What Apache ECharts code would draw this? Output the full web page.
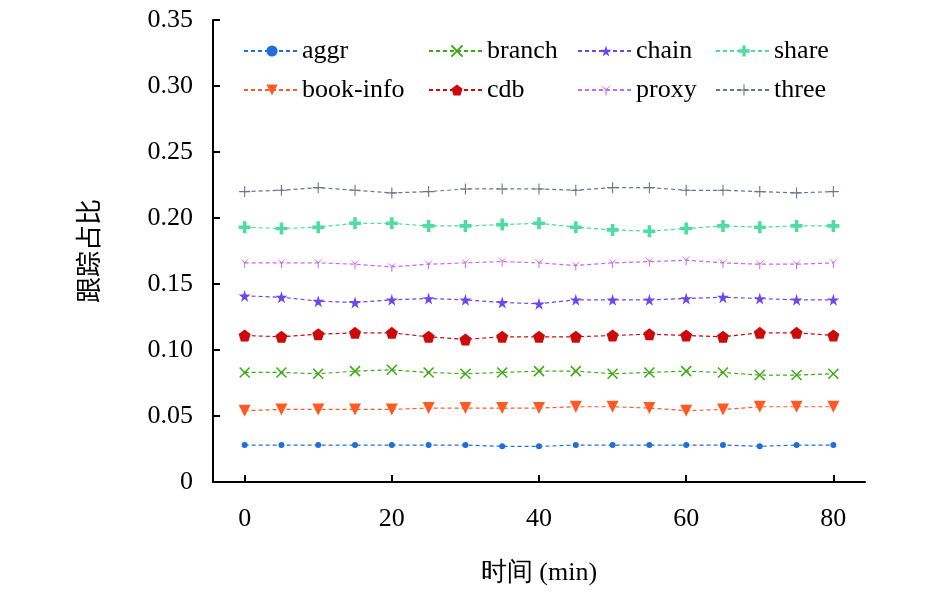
<!DOCTYPE html>
<html><head><meta charset="utf-8">
<script src="https://cdn.jsdelivr.net/npm/echarts@6/dist/echarts.min.js"></script>
<style>html,body{margin:0;background:#fff}#c{width:945px;height:592px}</style>
</head><body><div id="c"></div>
<script>
const times = [0,5,10,15,20,25,30,35,40,45,50,55,60,65,70,75,80];
const names = ["aggr","branch","chain","share","book-info","cdb","proxy","three"];
const aggr = [.028,.028,.028,.028,.028,.028,.028,.027,.027,.028,.028,.028,.028,.028,.027,.028,.028];
const branch = [.083,.083,.082,.084,.085,.083,.082,.083,.084,.084,.082,.083,.084,.083,.081,.081,.082];
const chain = [.141,.140,.137,.136,.138,.139,.138,.136,.135,.138,.138,.138,.139,.140,.139,.138,.138];
const share = [.193,.192,.193,.196,.196,.194,.194,.195,.196,.193,.191,.190,.192,.194,.193,.194,.194];
const bookInfo = [.054,.055,.055,.055,.055,.056,.056,.056,.056,.057,.057,.056,.054,.055,.057,.057,.057];
const cdb = [.111,.110,.112,.113,.113,.110,.108,.110,.110,.110,.111,.112,.111,.110,.113,.113,.111];
const proxy = [.166,.166,.166,.165,.163,.165,.166,.167,.166,.164,.166,.167,.168,.166,.165,.165,.166];
const three = [.220,.221,.223,.221,.219,.220,.222,.222,.222,.221,.223,.223,.221,.221,.220,.219,.220];
const values = [aggr, branch, chain, share, bookInfo, cdb, proxy, three];

const colors = ["#1f6fd6","#3caa10","#6a48f0","#50dca0","#ff5a24","#cc0a0a","#cc66ee","#6e7686"];
const symbols = [
  "circle",
  "path://M0,0L2,2M2,0L0,2",
  "path://M50,0L61,35H98L68,57L79,91L50,70L21,91L32,57L2,35H39Z",
  "path://M35,0H65V35H100V65H65V100H35V65H0V35H35Z",
  "triangle",
  "path://M50,0L100,38L81,100H19L0,38Z",
  "path://M0,0L50,40L100,0L55,50V100H45V50Z",
  "path://M45,0H55V45H100V55H55V100H45V55H0V45H45Z"
];
const sizes = [6,10,12,12,12,12,10,11];
const font = "'Liberation Serif','Times New Roman',serif";

const series = names.map((n, i) => ({
  name: n,
  type: "line",
  data: times.map((t, j) => [t, values[i][j]]),
  symbol: symbols[i],
  symbolSize: sizes[i],
  symbolRotate: n === "book-info" ? 180 : 0,
  lineStyle: { type: [4, 3], width: 1.2, color: colors[i] },
  itemStyle: { color: colors[i], borderColor: colors[i], borderWidth: (i === 1 ? 1.5 : 0) },
  emphasis: { disabled: true }
}));

const colX = [238, 423, 572, 710];
const legends = colX.map((x, c) => ({
  left: x, top: 33, orient: "vertical", itemGap: 13,
  itemWidth: 56, itemHeight: 14,
  data: [names[c], names[c + 4]],
  textStyle: { fontFamily: font, fontSize: 26, color: "#000", padding: [0, 0, 0, -3] }
}));

const chart = echarts.init(document.getElementById("c"));
chart.setOption({
  animation: false,
  legend: legends,
  grid: { left: 213, right: 80, top: 20, bottom: 110 },
  xAxis: {
    type: "value", min: -4.3, max: 84.3,
    name: "时间 (min)", nameLocation: "middle", nameGap: 78,
    nameTextStyle: { fontFamily: font, fontSize: 26, color: "#000" },
    axisLine: { onZero: false, lineStyle: { color: "#000", width: 2 } },
    axisTick: { inside: true, length: 7, lineStyle: { color: "#000", width: 2 }, customValues: [0,20,40,60,80] },
    axisLabel: { fontFamily: font, fontSize: 26, color: "#000", margin: 24, customValues: [0,20,40,60,80] },
    splitLine: { show: false }
  },
  yAxis: {
    type: "value", min: 0, max: 0.35, interval: 0.05,
    name: "跟踪占比", nameLocation: "middle", nameGap: 112, nameRotate: 90,
    nameTextStyle: { fontFamily: "'Noto Sans CJK SC'", fontSize: 26, color: "#000" },
    axisLine: { show: true, onZero: false, lineStyle: { color: "#000", width: 2 } },
    axisTick: { show: true, inside: true, length: 7, lineStyle: { color: "#000", width: 2 } },
    axisLabel: { fontFamily: font, fontSize: 26, color: "#000", margin: 20,
      formatter: v => v === 0 ? "0" : v.toFixed(2) },
    splitLine: { show: false }
  },
  series: series
});
</script></body></html>
